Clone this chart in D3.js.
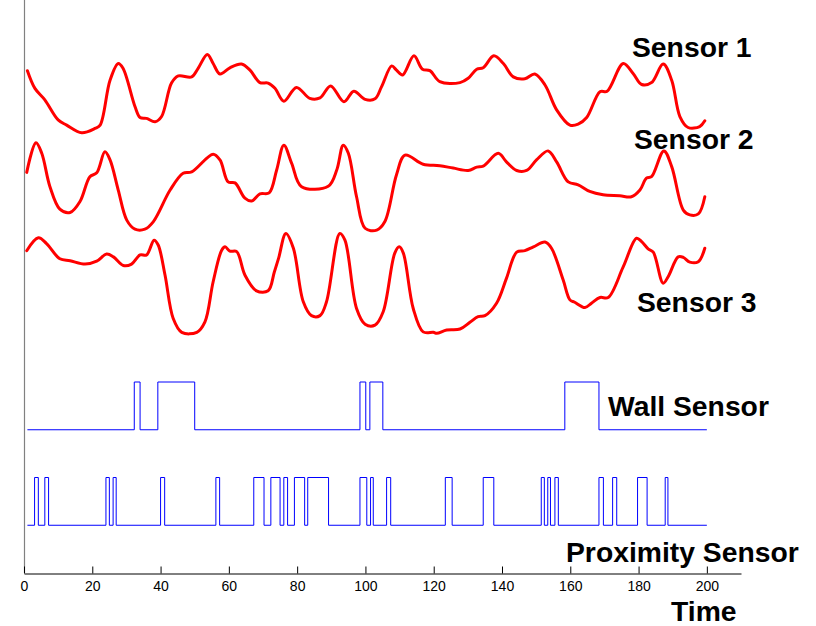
<!DOCTYPE html>
<html>
<head>
<meta charset="utf-8">
<script src="https://cdn.jsdelivr.net/npm/d3@7/dist/d3.min.js"></script>
<style>
  html, body { margin: 0; padding: 0; background: #fff; }
  svg { display: block; }
  .lbl { font-family: "Liberation Sans", Arial, Helvetica, sans-serif; font-weight: bold; font-size: 28.3px; fill: #000; }
  .tick text { font-family: "Liberation Sans", Arial, Helvetica, sans-serif; font-size: 14px; fill: #000; }
</style>
</head>
<body>
<svg id="chart" width="816" height="626"></svg>
<script>
// ---------------- data ----------------
const xTicks = [0, 20, 40, 60, 80, 100, 120, 140, 160, 180, 200];

const sensor1Time = [1, 3.2, 6.1, 10, 12.5, 16.9, 20.8, 22.3, 25.2, 27.6, 29, 32.5, 34, 35.9, 38.4, 40.3, 43.2, 45.2, 49.1, 51, 53.7, 55.4, 57.4, 60.3, 63.7, 66.2, 69.1, 71.5, 73.5, 76.1, 79.8, 83.7, 86.7, 89.8, 93.7, 96.6, 99.9, 102.8, 104.7, 107.7, 109.1, 110.9, 114.2, 116.7, 118.9, 121.8, 127.7, 130.1, 132.6, 134.5, 137.6, 140.4, 143.3, 146.7, 149.6, 152.6, 156, 159.9, 162.3, 164.8, 168.7, 170.8, 175.5, 178.4, 180.9, 183.8, 187.2, 189.7, 192.1, 194.5, 197.9, 199.4];
const sensor1 = [10.52, 10.15, 9.91, 9.49, 9.38, 9.22, 9.31, 9.38, 10.32, 10.67, 10.57, 9.77, 9.54, 9.52, 9.45, 9.56, 10.26, 10.41, 10.39, 10.57, 10.86, 10.67, 10.45, 10.58, 10.66, 10.53, 10.27, 10.26, 10.15, 9.88, 10.17, 9.94, 9.95, 10.20, 9.87, 10.09, 9.92, 9.93, 10.18, 10.62, 10.53, 10.43, 10.83, 10.55, 10.52, 10.29, 10.27, 10.36, 10.55, 10.58, 10.83, 10.67, 10.39, 10.35, 10.45, 10.22, 9.70, 9.38, 9.40, 9.54, 10.08, 10.09, 10.67, 10.46, 10.23, 10.27, 10.66, 10.32, 9.56, 9.33, 9.35, 9.47];

const sensor2Time = [0.8, 3.5, 5.2, 7.6, 10.5, 13.5, 16.4, 19.3, 21.3, 23.7, 25.2, 27.6, 30.1, 32.5, 35.4, 37.9, 42.8, 46.6, 49.1, 55.4, 57.4, 59.8, 61.8, 64.7, 66.7, 69.1, 71.8, 74, 76.1, 78.4, 81.3, 89.1, 91.6, 93.5, 95, 97.4, 99.9, 103.3, 105.7, 109.1, 111.6, 116.9, 121.8, 125.7, 130.1, 132.6, 134.5, 138.9, 141.3, 144.3, 147.2, 150.1, 153.5, 156, 159.4, 162.3, 165.7, 169.6, 174.5, 177.9, 180.4, 182.3, 183.8, 187.4, 189.7, 193.1, 195, 197.5, 199.4];
const sensor2 = [8.39, 9.01, 8.79, 8.09, 7.62, 7.55, 7.78, 8.30, 8.38, 8.82, 8.65, 8.02, 7.39, 7.20, 7.20, 7.36, 8.02, 8.37, 8.40, 8.77, 8.65, 8.19, 8.17, 7.85, 7.79, 7.94, 7.96, 8.44, 8.96, 8.58, 8.09, 8.10, 8.44, 8.96, 8.79, 7.88, 7.22, 7.18, 7.36, 8.34, 8.75, 8.56, 8.53, 8.48, 8.43, 8.50, 8.52, 8.79, 8.61, 8.43, 8.43, 8.65, 8.84, 8.61, 8.19, 8.13, 7.99, 7.92, 7.90, 7.88, 8.02, 8.27, 8.30, 8.84, 8.51, 7.60, 7.50, 7.52, 7.88];

const sensor3Time = [0.8, 4.2, 6.6, 10.5, 13.5, 17.9, 21.3, 24.2, 26.2, 29.1, 31.5, 34, 35.9, 38.1, 39.3, 41.3, 43.7, 46.2, 50.6, 53, 55.4, 57.9, 58.9, 60.3, 62.3, 64.7, 68.1, 71.5, 73.3, 74.6, 76.7, 78.9, 81.8, 84.2, 86.7, 88.6, 92.5, 94, 97.4, 99.9, 102.8, 105.2, 108.6, 109.9, 111.1, 114, 116.9, 119.9, 120.9, 123.8, 127.7, 130.6, 133, 135, 138.4, 141.3, 144.3, 146.7, 149.2, 152.6, 154.5, 157.9, 159.9, 161.3, 164.3, 166.2, 168.7, 171.1, 175.5, 179.4, 180.9, 182.8, 184.3, 187.2, 188.7, 191.6, 193.1, 195, 197.5, 199.4];
const sensor3 = [6.75, 7.02, 6.90, 6.58, 6.54, 6.47, 6.53, 6.68, 6.62, 6.44, 6.47, 6.66, 6.66, 6.97, 6.87, 6.24, 5.33, 5.04, 5.04, 5.26, 6.10, 6.76, 6.83, 6.74, 6.73, 6.24, 5.91, 5.91, 6.30, 6.60, 7.11, 6.80, 5.68, 5.39, 5.39, 5.68, 7.11, 6.97, 5.54, 5.21, 5.19, 5.47, 6.70, 6.83, 6.70, 5.54, 5.05, 5.04, 5.02, 5.09, 5.11, 5.25, 5.37, 5.39, 5.65, 6.17, 6.72, 6.75, 6.83, 6.93, 6.80, 6.14, 5.72, 5.67, 5.56, 5.65, 5.77, 5.77, 6.41, 7.01, 6.94, 6.79, 6.72, 6.07, 6.21, 6.62, 6.61, 6.51, 6.52, 6.80];

// binary signals: [on, off] times
const wallOn = [[32.3, 34.0], [39.2, 50.0], [98.4, 100.1], [101.3, 105.1], [158.4, 168.4]];
const proxOn = [[3.1, 4.2], [6.1, 7.2], [24.0, 25.0], [26.1, 27.0], [40.0, 41.2], [56.2, 57.3], [67.3, 70.3], [72.3, 75.0], [76.1, 77.2], [79.2, 82.2], [83.1, 89.2], [98.4, 100.4], [101.5, 102.3], [106.2, 107.4], [123.4, 125.4], [134.5, 137.6], [151.5, 152.4], [153.4, 154.2], [155.5, 156.5], [168.4, 169.7], [172.4, 173.6], [179.7, 182.5], [187.8, 188.6]];
const wallLevels = [3, 4];   // low, high
const proxLevels = [1, 2];   // low, high
const signalStart = 1, signalEnd = 200;

// ---------------- chart ----------------
const svg = d3.select("#chart");
const x = d3.scaleLinear().domain([0, 210]).range([24, 741]);
const y = d3.scaleLinear().domain([0, 12]).range([573, 0]);

// y axis (plain line, no ticks)
svg.append("line")
  .attr("x1", 24.5).attr("x2", 24.5)
  .attr("y1", y(12)).attr("y2", y(0))
  .attr("stroke", "#808080").attr("stroke-width", 1.2);

// x axis
const xAxis = d3.axisBottom(x).tickValues(xTicks).tickFormat(d3.format("d"))
  .tickSizeInner(-7).tickSizeOuter(0).tickPadding(8);
const gx = svg.append("g").attr("transform", `translate(0,${y(0) + 0.5})`).call(xAxis);
gx.select(".domain").attr("stroke", "#000").attr("stroke-width", 1);
gx.selectAll(".tick line").attr("stroke", "#000");

// sensor curves
const curveLine = d3.line()
  .x(d => x(d[0])).y(d => y(d[1]))
  .curve(d3.curveCatmullRom.alpha(0.5));

[[sensor1Time, sensor1], [sensor2Time, sensor2], [sensor3Time, sensor3]].forEach(([t, v]) => {
  svg.append("path")
    .datum(d3.zip(t, v))
    .attr("d", curveLine)
    .attr("fill", "none")
    .attr("stroke", "#ff0000")
    .attr("stroke-width", 3)
    .attr("stroke-linejoin", "round")
    .attr("stroke-linecap", "round");
});

// step signals
function stepPoints(intervals, levels) {
  const pts = [[signalStart, levels[0]]];
  intervals.forEach(([a, b]) => {
    pts.push([a, levels[0]], [a, levels[1]], [b, levels[1]], [b, levels[0]]);
  });
  pts.push([signalEnd, levels[0]]);
  return pts;
}
const stepLine = d3.line().x(d => x(d[0])).y(d => y(d[1]));
[[wallOn, wallLevels], [proxOn, proxLevels]].forEach(([iv, lv]) => {
  svg.append("path")
    .datum(stepPoints(iv, lv))
    .attr("d", stepLine)
    .attr("fill", "none")
    .attr("stroke", "#0000ff")
    .attr("stroke-width", 1);
});

// labels
const labels = [
  { text: "Sensor 1", px: 632, py: 57 },
  { text: "Sensor 2", px: 634, py: 149 },
  { text: "Sensor 3", px: 637, py: 312 },
  { text: "Wall Sensor", px: 608, py: 416 },
  { text: "Proximity Sensor", px: 566, py: 562 },
  { text: "Time", px: 671, py: 621 }
];
svg.selectAll("text.lbl").data(labels).enter().append("text")
  .attr("class", "lbl")
  .attr("x", d => d.px).attr("y", d => d.py)
  .text(d => d.text);
</script>
</body>
</html>
